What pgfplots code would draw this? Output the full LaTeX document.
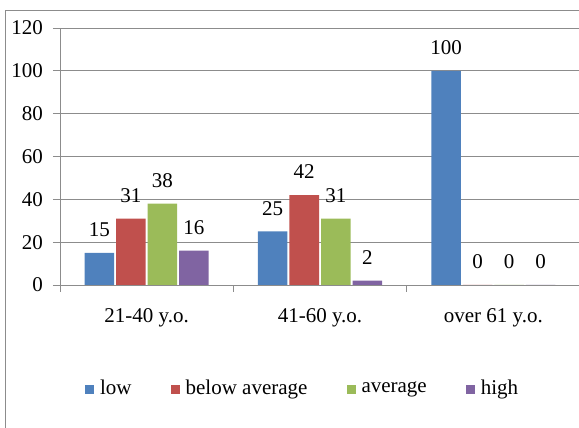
\documentclass[border=0pt]{standalone}
\usepackage{pgfplots}
\pgfplotsset{compat=1.18}
\usepackage{fontspec}
\setmainfont{Liberation Serif}
\definecolor{cblue}{HTML}{4F81BD}
\definecolor{cred}{HTML}{C0504D}
\definecolor{cgreen}{HTML}{9BBB59}
\definecolor{cpurple}{HTML}{8064A2}
\definecolor{gridgray}{HTML}{8C8C8C}
\definecolor{framegray}{HTML}{8C8C8C}
\begin{document}
\fontsize{21}{25}\selectfont
\begin{tikzpicture}
\begin{axis}[
  at={(60pt,143pt)}, anchor=south west,
  scale only axis, width=520pt, height=257pt,
  xmin=-0.5, xmax=2.5, ymin=0, ymax=120,
  axis x line*=bottom, axis y line*=left,
  axis line style={draw=gridgray, line width=0.8pt},
  ybar=2pt, bar width=29.5pt,
  xtick={-0.5,0.5,1.5,2.5}, xticklabels={,,,},
  extra x ticks={0,1,2},
  extra x tick labels={21-40 y.o., 41-60 y.o., over 61 y.o.},
  extra x tick style={major tick length=0pt},
  ytick={0,20,...,120},
  tick style={draw=gridgray, line width=0.8pt},
  tick align=outside, major tick length=7pt,
  ymajorgrids, grid style={draw=gridgray, line width=0.8pt},
  /pgf/number format/assume math mode=true,
  yticklabel style={anchor=east, inner sep=0pt, xshift=-10pt},
  xticklabel style={anchor=base, inner sep=0pt, yshift=-38pt},
  nodes near coords,
  nodes near coords style={anchor=south, inner sep=0pt, yshift=16pt, text=black},
  every axis plot/.append style={draw=none},
  legend style={draw=none, fill=none, at={(axis description cs:0.048,-0.405)}, anchor=west, inner sep=0pt,
    legend columns=4, nodes={inner sep=0pt},
    /tikz/every odd column/.append style={column sep=6pt},
    /tikz/every even column/.append style={column sep=39pt}},
  legend image code/.code={\fill[#1] (0pt,-4.5pt) rectangle (9pt,4.5pt);},
]
\addplot[fill=cblue] coordinates {(0,15) (1,25) (2,100)};
\addplot[fill=cred] coordinates {(0,31) (1,42) (2,0)};
\addplot[fill=cgreen] coordinates {(0,38) (1,31) (2,0)};
\addplot[fill=cpurple] coordinates {(0,16) (1,2) (2,0)};
\legend{low, below average, average, high}
\end{axis}
\draw[framegray, line width=0.8pt] (5.5pt,-20pt) -- (5.5pt,418pt) -- (600pt,418pt);
\pgfresetboundingbox
\useasboundingbox (0pt,0pt) rectangle (579pt,428pt);
\end{tikzpicture}
\end{document}
